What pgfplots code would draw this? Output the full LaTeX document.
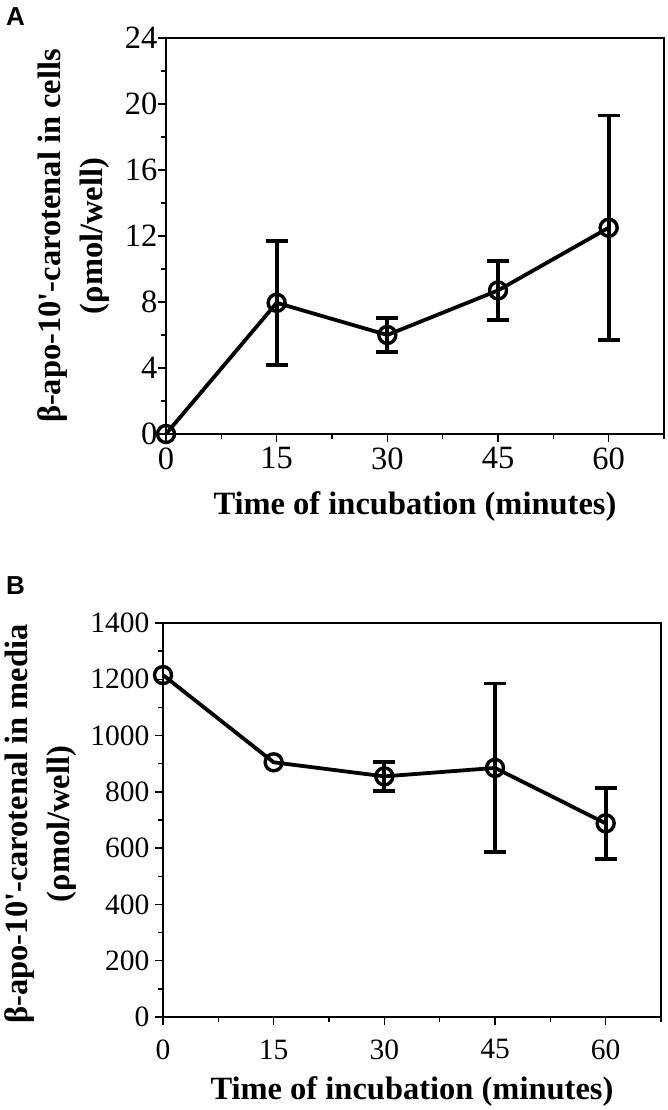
\documentclass[border=0pt]{standalone}
\usepackage{fontspec}
\setmainfont{Liberation Serif}[Ligatures=TeXOff]
\newfontfamily\panelfont{Liberation Sans}
\usepackage{pgfplots}
\pgfplotsset{compat=1.18}

\pgfplotsset{
  timeax/.style={
    scale only axis,
    width=498pt,
    xmin=0, xmax=67.5,
    xtick={0,15,30,45,60},
    minor xtick={7.5,22.5,37.5,52.5,67.5},
    tick pos=left,
    tick align=outside,
    major tick length=8pt,
    minor tick length=5pt,
    axis line style={line width=1.3pt},
    every tick/.style={line width=1.3pt, black},
    /pgf/number format/assume math mode=true,
    /pgf/number format/set thousands separator={},
    clip=false,
    xlabel={Time of incubation (minutes)},
    label style={font=\bfseries\fontsize{32.5}{42}\selectfont},
    xlabel style={at={(axis description cs:0.5,0)}, anchor=center},
    ylabel style={anchor=center, align=center},
  },
  datline/.style={
    black, line width=3.8pt,
    mark=o, mark size=8.5pt,
    mark options={line width=3.4pt, fill=white},
    error bars/.cd, y dir=both, y explicit,
    error bar style={line width=3.8pt},
    error mark options={rotate=90, mark size=11pt, line width=3.8pt},
  },
}

\begin{document}
\begin{tikzpicture}[x=1pt,y=1pt]
\useasboundingbox (0,0) rectangle (667,1110);

\node[font=\panelfont\bfseries\fontsize{26}{26}\selectfont, anchor=north west, inner sep=0pt] at (6,1103) {A};
\node[font=\panelfont\bfseries\fontsize{26}{26}\selectfont, anchor=north west, inner sep=0pt] at (6,534) {B};

% panel A: cells
\begin{axis}[timeax,
  at={(166pt,676pt)}, anchor=south west,
  height=396pt,
  ymin=0, ymax=24,
  ytick={0,4,8,12,16,20,24},
  minor ytick={2,6,10,14,18,22},
  ticklabel style={font=\fontsize{32.5}{32.5}\selectfont},
  yticklabel style={xshift=3pt},
  xticklabel style={yshift=-2pt},
  xlabel style={yshift=-73pt},
  ylabel={β-apo-10'-carotenal in cells\\(ρmol/well)},
  ylabel style={at={(axis description cs:-0.186,0.5)}},
]
\addplot[datline] coordinates {
  (0,0)
  (15,7.95) += (0,3.75) -= (0,3.75)
  (30,6.0) += (0,1.05) -= (0,1.05)
  (45,8.7) += (0,1.8) -= (0,1.8)
  (60,12.5) += (0,6.8) -= (0,6.8)
};
\end{axis}

% panel B: media
\begin{axis}[timeax,
  at={(163pt,93pt)}, anchor=south west,
  height=394pt,
  ymin=0, ymax=1400,
  ytick={0,200,400,600,800,1000,1200,1400},
  minor ytick={100,300,500,700,900,1100,1300},
  ticklabel style={font=\fontsize{29.5}{29.5}\selectfont},
  yticklabel style={xshift=-2pt},
  xticklabel style={yshift=-11pt},
  xlabel style={yshift=-75pt},
  ylabel={β-apo-10'-carotenal in media\\(ρmol/well)},
  ylabel style={at={(axis description cs:-0.245,0.49)}},
]
\addplot[datline] coordinates {
  (0,1215)
  (15,905)
  (30,855) += (0,52) -= (0,52)
  (45,885) += (0,300) -= (0,300)
  (60,688) += (0,127) -= (0,127)
};
\end{axis}
\end{tikzpicture}
\end{document}
